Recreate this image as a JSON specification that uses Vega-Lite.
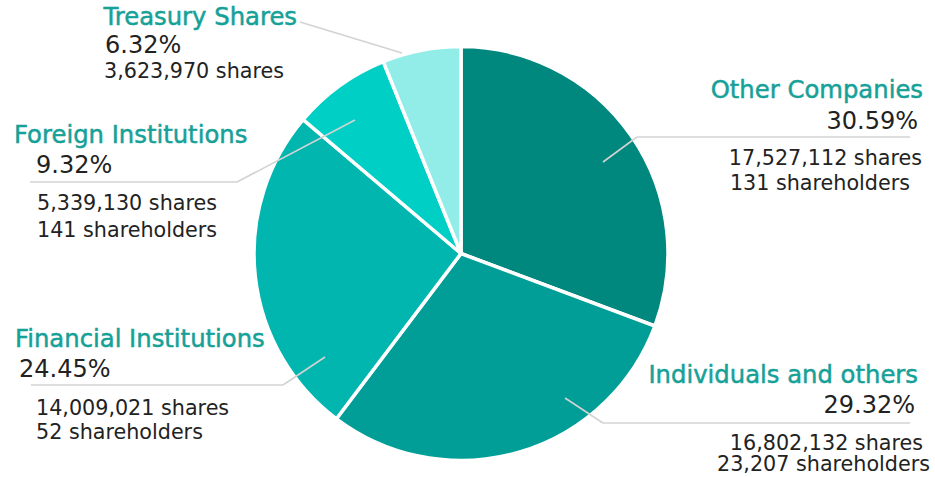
{
  "$schema": "https://vega.github.io/schema/vega-lite/v6.json",
  "width": 935,
  "height": 477,
  "autosize": {"type": "fit", "contains": "padding"},
  "padding": 0,
  "background": "white",
  "config": {"view": {"stroke": null}, "text": {"font": "DejaVu Sans"}},
  "datasets": {
    "holders": [
      {"category": "Other Companies", "pct": 30.59, "drawnAngle": 110.5, "rank": 1},
      {"category": "Individuals and others", "pct": 29.32, "drawnAngle": 106.5, "rank": 2},
      {"category": "Financial Institutions", "pct": 24.45, "drawnAngle": 93.3, "rank": 3},
      {"category": "Foreign Institutions", "pct": 9.32, "drawnAngle": 27.65, "rank": 4},
      {"category": "Treasury Shares", "pct": 6.32, "drawnAngle": 22.05, "rank": 5}
    ],
    "leaders": [
      {"category": "Treasury Shares", "x": 300, "y": 22, "x2": 402, "y2": 53},
      {"category": "Foreign Institutions", "x": 30, "y": 182, "x2": 237, "y2": 182},
      {"category": "Foreign Institutions", "x": 237, "y": 182, "x2": 355, "y2": 120},
      {"category": "Financial Institutions", "x": 31, "y": 385, "x2": 283, "y2": 385},
      {"category": "Financial Institutions", "x": 283, "y": 385, "x2": 325, "y2": 357},
      {"category": "Other Companies", "x": 637, "y": 137, "x2": 910, "y2": 137},
      {"category": "Other Companies", "x": 637, "y": 137, "x2": 603, "y2": 162},
      {"category": "Individuals and others", "x": 603, "y": 423, "x2": 910, "y2": 423},
      {"category": "Individuals and others", "x": 603, "y": 423, "x2": 565, "y2": 398}
    ],
    "labels": [
      {"kind": "title", "side": "left", "text": "Treasury Shares", "x": 103.5, "y": 25},
      {"kind": "title", "side": "left", "text": "Foreign Institutions", "x": 14, "y": 143},
      {"kind": "title", "side": "left", "text": "Financial Institutions", "x": 15, "y": 347},
      {"kind": "title", "side": "right", "text": "Other Companies", "x": 923, "y": 98},
      {"kind": "title", "side": "right", "text": "Individuals and others", "x": 918, "y": 383},
      {"kind": "pct", "side": "left", "text": "6.32%", "x": 105, "y": 53},
      {"kind": "pct", "side": "left", "text": "9.32%", "x": 36, "y": 173},
      {"kind": "pct", "side": "left", "text": "24.45%", "x": 19, "y": 377},
      {"kind": "pct", "side": "right", "text": "30.59%", "x": 918, "y": 129},
      {"kind": "pct", "side": "right", "text": "29.32%", "x": 915, "y": 413},
      {"kind": "detail", "side": "left", "text": "3,623,970 shares", "x": 104, "y": 78},
      {"kind": "detail", "side": "left", "text": "5,339,130 shares", "x": 37, "y": 210},
      {"kind": "detail", "side": "left", "text": "141 shareholders", "x": 37, "y": 237},
      {"kind": "detail", "side": "left", "text": "14,009,021 shares", "x": 36, "y": 415},
      {"kind": "detail", "side": "left", "text": "52 shareholders", "x": 36, "y": 439},
      {"kind": "detail", "side": "right", "text": "17,527,112 shares", "x": 922, "y": 165},
      {"kind": "detail", "side": "right", "text": "131 shareholders", "x": 910, "y": 190},
      {"kind": "detail", "side": "right", "text": "16,802,132 shares", "x": 923, "y": 450},
      {"kind": "detail", "side": "right", "text": "23,207 shareholders", "x": 930, "y": 471}
    ]
  },
  "encoding": {
    "x": {"type": "quantitative", "scale": {"domain": [0, 935], "nice": false, "zero": false}, "axis": null},
    "y": {"type": "quantitative", "scale": {"domain": [0, 477], "nice": false, "zero": false, "reverse": true}, "axis": null}
  },
  "layer": [
    {
      "data": {"name": "holders"},
      "mark": {"type": "arc", "outerRadius": 207, "stroke": "white", "strokeWidth": 3.5},
      "encoding": {
        "x": {"datum": 461, "type": "quantitative"},
        "y": {"datum": 253.5, "type": "quantitative"},
        "theta": {"field": "drawnAngle", "type": "quantitative", "stack": true},
        "order": {"field": "rank", "type": "quantitative", "sort": "ascending"},
        "color": {
          "field": "category",
          "type": "nominal",
          "scale": {
            "domain": ["Other Companies", "Individuals and others", "Financial Institutions", "Foreign Institutions", "Treasury Shares"],
            "range": ["#00877e", "#009e96", "#00b6ae", "#00cfc6", "#92ede9"]
          },
          "legend": null
        }
      }
    },
    {
      "data": {"name": "leaders"},
      "mark": {"type": "rule", "color": "#d3d3d3", "strokeWidth": 1.6},
      "encoding": {
        "x": {"field": "x"},
        "y": {"field": "y"},
        "x2": {"field": "x2"},
        "y2": {"field": "y2"}
      }
    },
    {
      "data": {"name": "labels"},
      "transform": [{"filter": "datum.kind === 'title' && datum.side === 'left'"}],
      "mark": {"type": "text", "align": "left", "baseline": "alphabetic", "fontSize": 24.3, "color": "#16a198", "stroke": "#16a198", "strokeWidth": 0.5},
      "encoding": {"x": {"field": "x"}, "y": {"field": "y"}, "text": {"field": "text"}}
    },
    {
      "data": {"name": "labels"},
      "transform": [{"filter": "datum.kind === 'title' && datum.side === 'right'"}],
      "mark": {"type": "text", "align": "right", "baseline": "alphabetic", "fontSize": 24.3, "color": "#16a198", "stroke": "#16a198", "strokeWidth": 0.5},
      "encoding": {"x": {"field": "x"}, "y": {"field": "y"}, "text": {"field": "text"}}
    },
    {
      "data": {"name": "labels"},
      "transform": [{"filter": "datum.kind === 'pct' && datum.side === 'left'"}],
      "mark": {"type": "text", "align": "left", "baseline": "alphabetic", "fontSize": 24, "color": "#222222"},
      "encoding": {"x": {"field": "x"}, "y": {"field": "y"}, "text": {"field": "text"}}
    },
    {
      "data": {"name": "labels"},
      "transform": [{"filter": "datum.kind === 'pct' && datum.side === 'right'"}],
      "mark": {"type": "text", "align": "right", "baseline": "alphabetic", "fontSize": 24, "color": "#222222"},
      "encoding": {"x": {"field": "x"}, "y": {"field": "y"}, "text": {"field": "text"}}
    },
    {
      "data": {"name": "labels"},
      "transform": [{"filter": "datum.kind === 'detail' && datum.side === 'left'"}],
      "mark": {"type": "text", "align": "left", "baseline": "alphabetic", "fontSize": 20.7, "color": "#222222"},
      "encoding": {"x": {"field": "x"}, "y": {"field": "y"}, "text": {"field": "text"}}
    },
    {
      "data": {"name": "labels"},
      "transform": [{"filter": "datum.kind === 'detail' && datum.side === 'right'"}],
      "mark": {"type": "text", "align": "right", "baseline": "alphabetic", "fontSize": 20.7, "color": "#222222"},
      "encoding": {"x": {"field": "x"}, "y": {"field": "y"}, "text": {"field": "text"}}
    }
  ]
}
